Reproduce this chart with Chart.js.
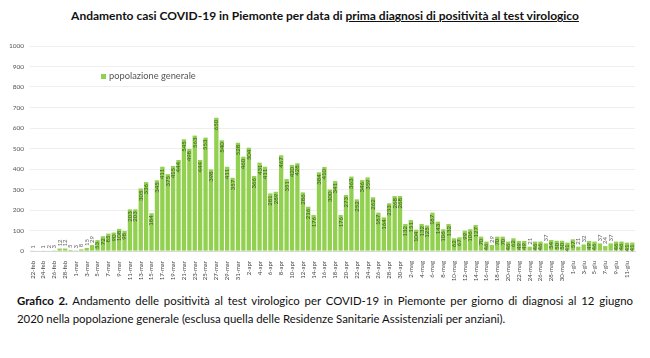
<!DOCTYPE html>
<html>
<head>
<meta charset="utf-8">
<script src="https://cdn.jsdelivr.net/npm/chart.js@4"></script>
<style>
  html, body { margin: 0; padding: 0; background: #fff; }
  body { width: 650px; height: 358px; position: relative; overflow: hidden; font-family: Lato, "Noto Sans", sans-serif; }
  #title { position: absolute; top: 8px; left: 0; width: 650px; text-align: center; font-weight: 700; font-size: 12px; color: #111; }
  #title u { text-decoration-thickness: 1px; text-underline-offset: 1px; }
  #wrap { position: absolute; left: 0; top: 36px; width: 650px; height: 250px; }
  #legend { position: absolute; left: 101px; top: 70px; font-size: 9.3px; color: #555; }
  #legend span { display: inline-block; width: 5px; height: 5px; background: #92d050; margin-right: 3px; vertical-align: 0px; }
  #caption { position: absolute; left: 17px; top: 292px; width: 616px; font-size: 11.4px; line-height: 17.5px; color: #111; }
  #caption .l1 { text-align: justify; text-align-last: justify; white-space: nowrap; }
</style>
</head>
<body>
<div id="title">Andamento casi COVID-19 in Piemonte per data di <u>prima diagnosi di positività al test virologico</u></div>
<div id="wrap"><canvas id="casi"></canvas></div>
<div id="legend"><span></span>popolazione generale</div>
<div id="caption">
  <div class="l1"><b>Grafico 2.</b> Andamento delle positività al test virologico per COVID-19 in Piemonte per giorno di diagnosi al 12 giugno</div>
  <div>2020 nella popolazione generale (esclusa quella delle Residenze Sanitarie Assistenziali per anziani).</div>
</div>
<script>
const giorni = [
  "22-feb","23-feb","24-feb","25-feb","26-feb","27-feb","28-feb","29-feb",
  "1-mar","2-mar","3-mar","4-mar","5-mar","6-mar","7-mar","8-mar","9-mar","10-mar",
  "11-mar","12-mar","13-mar","14-mar","15-mar","16-mar","17-mar","18-mar","19-mar","20-mar",
  "21-mar","22-mar","23-mar","24-mar","25-mar","26-mar","27-mar","28-mar","29-mar","30-mar","31-mar",
  "1-apr","2-apr","3-apr","4-apr","5-apr","6-apr","7-apr","8-apr","9-apr","10-apr",
  "11-apr","12-apr","13-apr","14-apr","15-apr","16-apr","17-apr","18-apr","19-apr","20-apr",
  "21-apr","22-apr","23-apr","24-apr","25-apr","26-apr","27-apr","28-apr","29-apr","30-apr",
  "1-mag","2-mag","3-mag","4-mag","5-mag","6-mag","7-mag","8-mag","9-mag","10-mag",
  "11-mag","12-mag","13-mag","14-mag","15-mag","16-mag","17-mag","18-mag","19-mag","20-mag",
  "21-mag","22-mag","23-mag","24-mag","25-mag","26-mag","27-mag","28-mag","29-mag","30-mag","31-mag",
  "1-giu","2-giu","3-giu","4-giu","5-giu","6-giu","7-giu","8-giu","9-giu","10-giu","11-giu","12-giu"
];

const popolazioneGenerale = [
  1, 0, 1, 2, 3, 12, 12, 5,
  3, 8, 15, 29, 53, 72, 85, 90, 108, 98,
  203, 203, 305, 336, 184, 345, 411, 375, 415, 444,
  545, 498, 563, 444, 553, 398, 650, 540, 411, 357, 528,
  460, 504, 366, 431, 411, 281, 289, 467, 351, 420,
  428, 286, 216, 176, 384, 410, 300, 341, 176, 273,
  363, 252, 346, 359, 262, 187, 164, 233, 268, 268,
  132, 151, 104, 132, 125, 187, 143, 106, 132, 62,
  67, 99, 106, 127, 70, 46, 29, 70, 70, 46,
  62, 49, 49, 21, 46, 46, 37, 54, 50, 50, 41,
  57, 21, 32, 49, 46, 37, 24, 37, 46, 46, 41, 41
];

const yTicks = [0, 100, 200, 300, 400, 500, 600, 700, 800, 900, 1000];

// value labels written vertically on each bar
const valueLabels = {
  id: 'valueLabels',
  afterDatasetsDraw(chart) {
    const ctx = chart.ctx;
    const meta = chart.getDatasetMeta(0);
    ctx.save();
    ctx.font = "6px Lato, sans-serif";
    ctx.textBaseline = 'middle';
    meta.data.forEach((bar, i) => {
      const v = popolazioneGenerale[i];
      if (!v) return;
      ctx.save();
      ctx.translate(bar.x, bar.y);
      ctx.rotate(-Math.PI / 2);
      if (v >= 40) {
        ctx.fillStyle = '#3b5a22';
        ctx.textAlign = 'right';
        ctx.fillText(String(v), -2, 0);
      } else {
        ctx.fillStyle = '#666';
        ctx.textAlign = 'left';
        ctx.fillText(String(v), 2, 0);
      }
      ctx.restore();
    });
    ctx.restore();
  }
};

new Chart(document.getElementById('casi'), {
  type: 'bar',
  data: {
    labels: giorni,
    datasets: [{
      label: 'popolazione generale',
      data: popolazioneGenerale,
      backgroundColor: '#92d050',
      borderWidth: 0,
      barPercentage: 0.8,
      categoryPercentage: 1
    }]
  },
  options: {
    responsive: true,
    maintainAspectRatio: false,
    animation: false,
    layout: { padding: { top: 10, bottom: 0, left: 0, right: 15 } },
    plugins: {
      legend: { display: false },
      tooltip: { enabled: false }
    },
    scales: {
      x: {
        grid: { display: false },
        border: { color: '#d9d9d9' },
        ticks: {
          autoSkip: false,
          maxRotation: 90,
          minRotation: 90,
          padding: 2,
          color: '#444',
          font: { family: 'Lato, sans-serif', size: 6 },
          callback: (v, i) => (i % 2 === 0 ? giorni[i] : '')
        },
        afterFit: s => { s.height = 35; }
      },
      y: {
        min: 0,
        max: 1000,
        afterBuildTicks: s => { s.ticks = yTicks.map(v => ({ value: v })); },
        grid: { color: '#e6e6e6', lineWidth: 0.7, drawTicks: false },
        border: { display: false },
        ticks: {
          color: '#555',
          padding: 6,
          font: { family: 'Lato, sans-serif', size: 6.5 },
          callback: v => String(v)
        },
        afterFit: s => { s.width = 30; }
      }
    }
  },
  plugins: [valueLabels]
});
</script>
</body>
</html>
